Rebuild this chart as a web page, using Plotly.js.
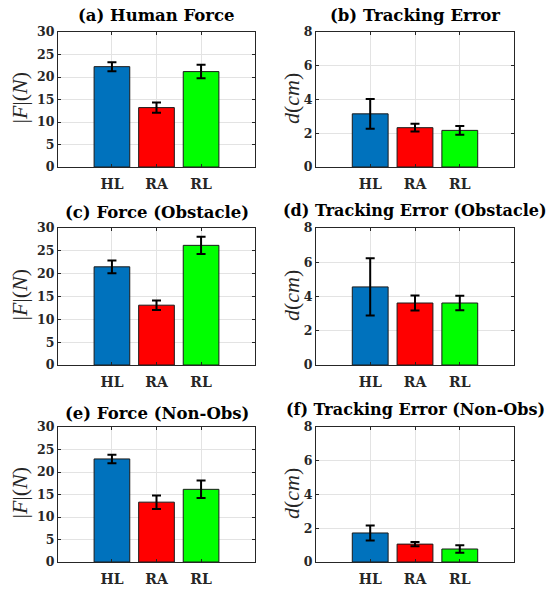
<!DOCTYPE html>
<html>
<head>
<meta charset="utf-8">
<script src="https://cdn.plot.ly/plotly-3.0.1.min.js"></script>
<style>html,body{margin:0;padding:0;background:#fff;}#chart{width:554px;height:589px;}</style>
</head>
<body>
<div id="chart"></div>
<script>
// ---- data ----
const categories = ['HL', 'RA', 'RL'];
const barColors = ['#0072BD', '#FF0000', '#00FF00'];

const forceHuman = [22.3, 13.2, 21.2];
const forceHumanErr = [1.0, 1.15, 1.5];
const trackError = [3.15, 2.33, 2.17];
const trackErrorErr = [0.88, 0.23, 0.26];
const forceObs = [21.5, 13.1, 26.2];
const forceObsErr = [1.4, 1.05, 1.9];
const trackObs = [4.56, 3.62, 3.62];
const trackObsErr = [1.67, 0.44, 0.42];
const forceNon = [22.9, 13.3, 16.15];
const forceNonErr = [0.95, 1.5, 1.95];
const trackNon = [1.72, 1.06, 0.77];
const trackNonErr = [0.45, 0.12, 0.22];

const panelTitles = ['(a) Human Force', '(b) Tracking Error', '(c) Force (Obstacle)',
  '(d) Tracking Error (Obstacle)', '(e) Force (Non-Obs)', '(f) Tracking Error (Non-Obs)'];
const forceLabel = '|<i>F</i>|(<i>N</i>)';
const distLabel = '<i>d</i>(<i>cm</i>)';

const panels = [
  {v: forceHuman, e: forceHumanErr, ymax: 30, dt: 5, lab: forceLabel},
  {v: trackError, e: trackErrorErr, ymax: 8, dt: 2, lab: distLabel},
  {v: forceObs, e: forceObsErr, ymax: 30, dt: 5, lab: forceLabel},
  {v: trackObs, e: trackObsErr, ymax: 8, dt: 2, lab: distLabel},
  {v: forceNon, e: forceNonErr, ymax: 30, dt: 5, lab: forceLabel},
  {v: trackNon, e: trackNonErr, ymax: 8, dt: 2, lab: distLabel}
];

// ---- layout geometry (pixels) ----
const W = 554, H = 589;
const colX = [[58, 255], [316, 514]];
const rowY = [[32, 167], [228, 365], [427, 562]];
const titleY = [[15.5, 15], [212.5, 210], [413, 409]];
const ylabX = [18.5, 291];
const ylabDy = [-1.5, -0.5];
const px = x => x / W;
const py = y => 1 - y / H;

const font = 'DejaVu Serif';
const txtColor = '#262626';

const traces = [];
const layout = {
  width: W, height: H,
  margin: {l: 0, r: 0, t: 0, b: 0},
  paper_bgcolor: '#fff', plot_bgcolor: '#fff',
  showlegend: false,
  annotations: []
};

panels.forEach((p, i) => {
  const r = Math.floor(i / 2), c = i % 2;
  const n = i + 1;
  const xa = n === 1 ? 'x' : 'x' + n;
  const ya = n === 1 ? 'y' : 'y' + n;
  traces.push({
    type: 'bar', x: categories, y: p.v,
    xaxis: xa, yaxis: ya, width: 0.8,
    marker: {color: barColors, line: {color: '#1a1a1a', width: 1}},
    error_y: {type: 'data', array: p.e, visible: true, color: '#000', thickness: 2, width: 4.5},
    hoverinfo: 'skip'
  });
  const xk = n === 1 ? 'xaxis' : 'xaxis' + n;
  const yk = n === 1 ? 'yaxis' : 'yaxis' + n;
  layout[xk] = {
    domain: [px(colX[c][0]), px(colX[c][1])],
    anchor: ya, type: 'category', range: [-1.21, 3.21],
    showline: true, linecolor: txtColor, linewidth: 1, mirror: 'ticks',
    ticks: 'inside', ticklen: 3, tickcolor: txtColor,
    showgrid: true, gridcolor: '#e3e3e3', gridwidth: 1,
    ticklabelstandoff: 4,
    tickfont: {family: font, size: 14, color: txtColor, weight: 'bold'},
    fixedrange: true
  };
  layout[yk] = {
    domain: [py(rowY[r][1]), py(rowY[r][0])],
    anchor: xa, range: [0, p.ymax], dtick: p.dt, tick0: 0,
    showline: true, linecolor: txtColor, linewidth: 1, mirror: 'ticks',
    ticks: 'inside', ticklen: 3, tickcolor: txtColor,
    showgrid: true, gridcolor: '#e3e3e3', gridwidth: 1, zeroline: false,
    tickfont: {family: font, size: 12.5, color: txtColor, weight: 'bold'},
    fixedrange: true
  };
  layout.annotations.push({
    text: '<b>' + panelTitles[i] + '</b>', xref: 'paper', yref: 'paper',
    x: px((colX[c][0] + colX[c][1]) / 2), y: py(titleY[r][c]),
    xanchor: 'center', yanchor: 'middle', showarrow: false, borderpad: 0,
    font: {family: font, size: c === 1 && r > 0 ? 16 : 16.5, color: '#000'}
  });
  layout.annotations.push({
    text: p.lab, xref: 'paper', yref: 'paper', textangle: -90,
    x: px(ylabX[c]), y: py((rowY[r][0] + rowY[r][1]) / 2 + ylabDy[c]),
    xanchor: 'center', yanchor: 'middle', showarrow: false, borderpad: 0,
    font: {family: 'Liberation Serif', size: 22, color: txtColor}
  });
});

Plotly.newPlot('chart', traces, layout, {staticPlot: true, displayModeBar: false});
</script>
</body>
</html>
